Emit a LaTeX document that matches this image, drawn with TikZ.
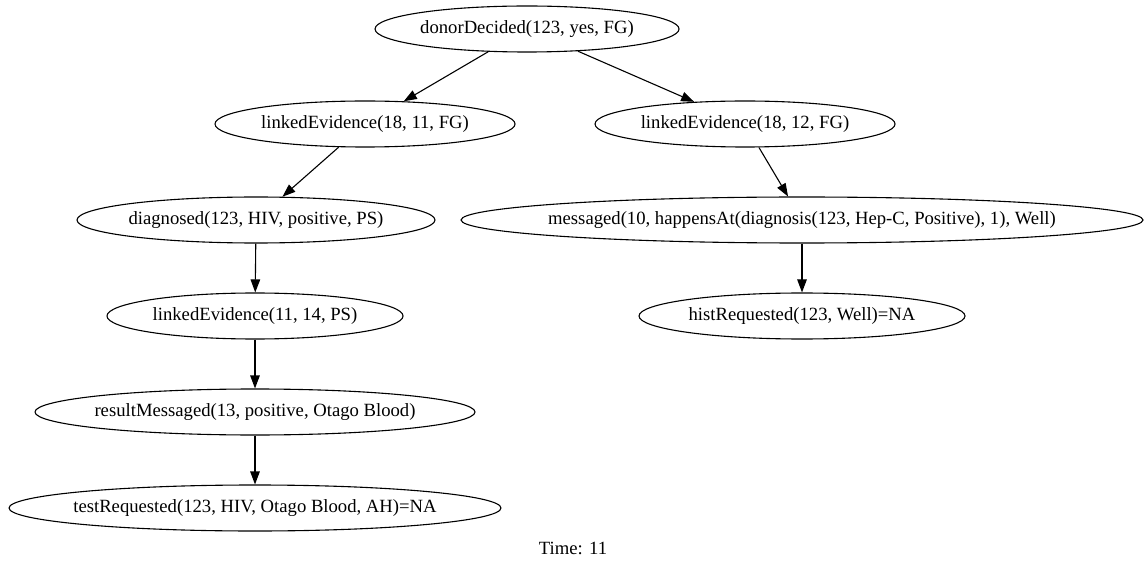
\documentclass[tikz,border=0pt]{standalone}
\usepackage{fontspec}
\setmainfont{Liberation Serif}
\usetikzlibrary{shapes.geometric}
\usetikzlibrary{arrows.meta}
\tikzset{
    fact/.style={
    draw,
    ellipse,
    inner sep=0pt,
    minimum height=46pt,
    line width=1.1pt
    },
    dep/.style={
    line width=1.1pt,
    -{Triangle[length=13pt,width=9.5pt]}
    }
}
\newcommand{\factlbl}[1]{\makebox[0pt]{#1}}

\begin{document}
\begin{tikzpicture}[x=1pt,y=-1pt,every node/.style={font=\fontsize{18.67}{22}\selectfont}]
\useasboundingbox (0,0) rectangle (1148,569);

\node [fact,minimum width=304pt] (dd) at (527,29) {\factlbl{donorDecided(123, yes, FG)}};
\node [fact,minimum width=300pt] (le1) at (365,124) {\factlbl{linkedEvidence(18, 11, FG)}};
\node [fact,minimum width=300pt] (le2) at (745,124) {\factlbl{linkedEvidence(18, 12, FG)}};
\node [fact,minimum width=358pt] (diag) at (256,220) {\factlbl{diagnosed(123, HIV, positive, PS)}};
\node [fact,minimum width=682pt] (msg) at (802,220) {\factlbl{messaged(10, happensAt(diagnosis(123, Hep-C, Positive), 1), Well)}};
\node [fact,minimum width=296pt] (le3) at (255,316) {\factlbl{linkedEvidence(11, 14, PS)}};
\node [fact,minimum width=326pt] (hist) at (802,316) {\factlbl{histRequested(123, Well)=NA}};
\node [fact,minimum width=440pt] (res) at (255,412) {\factlbl{resultMessaged(13, positive, Otago Blood)}};
\node [fact,minimum width=492pt] (test) at (255,508) {\factlbl{testRequested(123, HIV, Otago Blood, AH)=NA}};

\node (time) at (573,548) {Time: 11};

\draw[dep] (dd) -- (le1);
\draw[dep] (dd) -- (le2);
\draw[dep] (le1) -- (diag);
\draw[dep] (le2) -- (msg);
\draw[dep] (diag) -- (le3);
\draw[dep] (le3) -- (res);
\draw[dep] (res) -- (test);
\draw[dep] (msg) -- (hist);

\end{tikzpicture}
\end{document}
